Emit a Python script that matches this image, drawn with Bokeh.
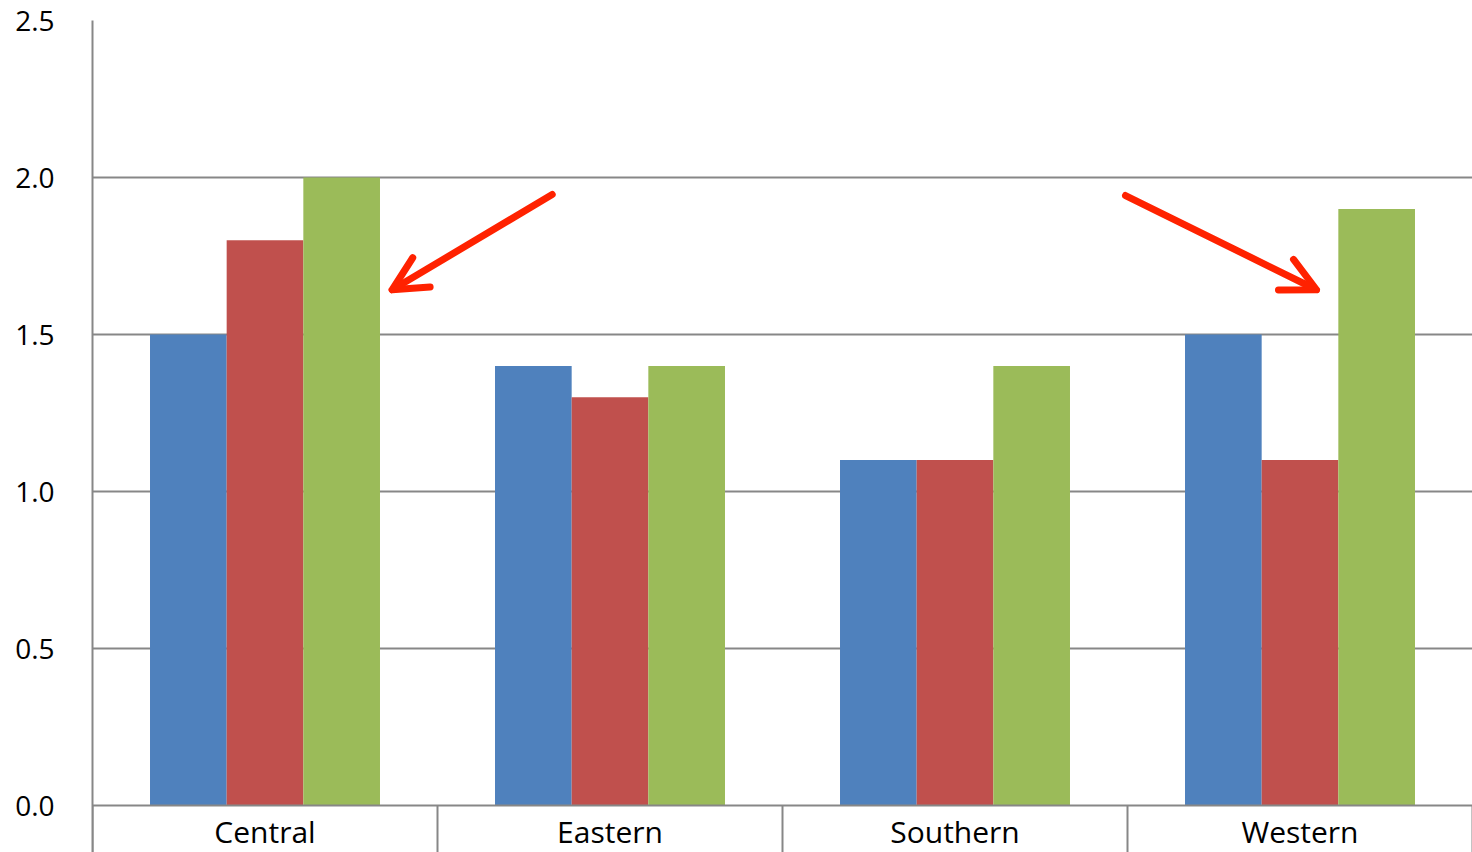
from bokeh.plotting import figure
from bokeh.models import Range1d, FixedTicker, PrintfTickFormatter, Span, Arrow, OpenHead
from bokeh.core.properties import value
from bokeh.embed import file_html
from bokeh.resources import INLINE

# ---- data ----
categories = ["Central", "Eastern", "Southern", "Western"]
series_blue = [1.5, 1.4, 1.1, 1.5]
series_red = [1.8, 1.3, 1.1, 1.1]
series_green = [2.0, 1.4, 1.4, 1.9]
y_ticks = [0.0, 0.5, 1.0, 1.5, 2.0, 2.5]

# arrow annotations (data units: x = category index space, y = value)
arrow_tail_x = [1.3325, 2.9942]
arrow_tail_y = [1.9457, 1.9426]
arrow_tip_x = [0.8687, 3.5478]
arrow_tip_y = [1.6425, 1.6425]

# ---- style ----
BLUE, RED, GREEN = "#4F81BD", "#C0504D", "#9BBB59"
GRID = "#878787"
ARROW = "#FF2200"
FONT = "Open Sans"

TOP = 20
ZERO_PX = 805
scale = (ZERO_PX - TOP) / 2.5
y_bottom = -(852 - ZERO_PX) / scale
p = figure(width=1472, height=852, output_backend="svg", toolbar_location=None,
           x_range=Range1d(0, len(categories)), y_range=Range1d(y_bottom, 2.5),
           x_axis_location=None, min_border_left=92, min_border_right=0,
           min_border_top=TOP, min_border_bottom=0)
p.outline_line_color = None
p.xgrid.visible = False
p.ygrid.ticker = FixedTicker(ticks=y_ticks[1:])
p.ygrid.grid_line_color = GRID
p.ygrid.grid_line_width = 2

ax = p.yaxis[0]
ax.ticker = FixedTicker(ticks=y_ticks)
ax.formatter = PrintfTickFormatter(format="%.1f")
ax.axis_line_color = GRID
ax.axis_line_width = 2
ax.major_tick_line_color = None
ax.minor_tick_line_color = None
ax.major_label_standoff = 32
ax.major_label_text_font = FONT
ax.major_label_text_font_size = "28px"
ax.major_label_text_color = "black"

bw = 0.2222
centers = [i + 0.5 for i in range(len(categories))]
for k, (vals, col) in enumerate([(series_blue, BLUE), (series_red, RED), (series_green, GREEN)]):
    xs = [c + (k - 1) * bw for c in centers]
    p.vbar(x=xs, top=vals, bottom=0, width=bw, fill_color=col, line_color=None)

# baseline axis line over the bars
p.add_layout(Span(location=0, dimension="width", line_color=GRID, line_width=2))

# category separators below the axis
bounds = list(range(len(categories) + 1))
p.segment(x0=bounds, x1=bounds, y0=[0] * len(bounds), y1=[y_bottom] * len(bounds),
          line_color=GRID, line_width=2)

# category labels
p.text(x=centers, y=[0] * len(centers), text=categories, text_align="center",
       text_baseline="alphabetic", y_offset=26, text_font=value(FONT),
       text_font_size="30px", text_color="black")

# arrows
for tx, ty, hx, hy in zip(arrow_tail_x, arrow_tail_y, arrow_tip_x, arrow_tip_y):
    p.add_layout(Arrow(end=OpenHead(size=34, line_color=ARROW, line_width=7, line_cap="round", line_join="round"),
                       x_start=tx, y_start=ty, x_end=hx, y_end=hy,
                       line_color=ARROW, line_width=7, line_cap="round"))

open("out.html", "w").write(file_html(p, INLINE))
